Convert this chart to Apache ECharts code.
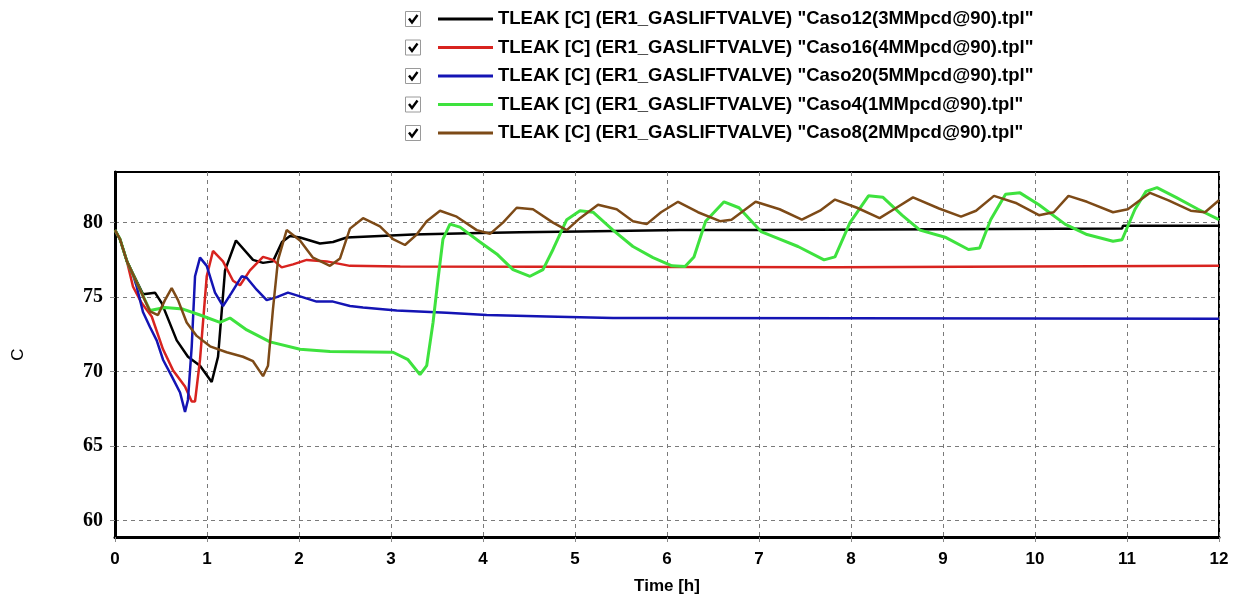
<!DOCTYPE html>
<html>
<head>
<meta charset="utf-8">
<script src="https://cdn.jsdelivr.net/npm/echarts@6/dist/echarts.min.js"></script>
<style>
html,body{margin:0;padding:0;background:#fff;}
#chart{width:1233px;height:602px;}
</style>
</head>
<body>
<div id="chart"></div>
<script>
// ---- Data (time in hours, temperature in C) ----
const seriesNames = [
  'TLEAK [C] (ER1_GASLIFTVALVE) "Caso12(3MMpcd@90).tpl"',
  'TLEAK [C] (ER1_GASLIFTVALVE) "Caso16(4MMpcd@90).tpl"',
  'TLEAK [C] (ER1_GASLIFTVALVE) "Caso20(5MMpcd@90).tpl"',
  'TLEAK [C] (ER1_GASLIFTVALVE) "Caso4(1MMpcd@90).tpl"',
  'TLEAK [C] (ER1_GASLIFTVALVE) "Caso8(2MMpcd@90).tpl"'
];
const xTicks = [0,1,2,3,4,5,6,7,8,9,10,11,12];
const yTicks = [60,65,70,75,80];

const caso12T = [0,0.054,0.13,0.304,0.435,0.508,0.671,0.793,0.924,1.051,1.12,1.196,1.315,1.5,1.609,1.717,1.815,1.902,2.011,2.228,2.37,2.518,2.88,3.239,3.967,4.402,5.054,6.141,6.957,6.967,10.946,10.957,12];
const caso12V = [79.5,78.9,77.4,75.2,75.3,74.6,72.1,71.0,70.4,69.3,71.0,76.8,78.8,77.5,77.3,77.4,78.7,79.1,79.0,78.6,78.7,79.0,79.1,79.2,79.3,79.35,79.4,79.5,79.5,79.6,79.6,79.8,79.8];

const caso16T = [0,0.054,0.13,0.196,0.29,0.399,0.522,0.63,0.761,0.834,0.87,0.924,0.997,1.065,1.174,1.283,1.359,1.467,1.609,1.717,1.812,1.935,2.084,2.301,2.554,3.1,7.848,7.859,12];
const caso16V = [79.5,78.9,77.4,75.7,74.6,73.7,71.5,70.1,69.0,68.0,68.0,70.8,76.4,78.1,77.4,76.1,75.8,76.8,77.7,77.5,77.0,77.2,77.5,77.4,77.1,77.05,77.0,77.1,77.1];

const caso20T = [0,0.054,0.13,0.196,0.236,0.304,0.38,0.453,0.522,0.616,0.707,0.761,0.793,0.834,0.87,0.924,0.997,1.087,1.174,1.268,1.377,1.432,1.54,1.649,1.758,1.88,2.011,2.192,2.37,2.554,2.696,3.062,3.605,4.04,4.692,5.413,5.957,5.967,12];
const caso20V = [79.5,78.9,77.4,76.5,75.7,74.0,73.0,72.1,70.8,69.7,68.6,67.3,68.1,71.7,76.4,77.65,77.1,75.3,74.4,75.3,76.4,76.3,75.5,74.8,75.0,75.3,75.05,74.7,74.7,74.4,74.3,74.1,73.95,73.8,73.7,73.6,73.6,73.55,73.55];

const caso4T = [0,0.054,0.13,0.272,0.38,0.543,0.739,0.924,1.141,1.25,1.432,1.685,2.011,2.337,3.022,3.185,3.315,3.388,3.457,3.511,3.565,3.641,3.75,3.967,4.149,4.326,4.511,4.652,4.761,4.91,5.054,5.196,5.413,5.63,5.848,6.054,6.196,6.293,6.42,6.62,6.783,7.022,7.185,7.424,7.707,7.826,7.989,8.19,8.348,8.554,8.75,9.033,9.277,9.398,9.518,9.68,9.837,10.043,10.326,10.565,10.848,10.946,11.087,11.207,11.326,11.533,11.772,12];
const caso4V = [79.5,78.9,77.4,75.5,74.1,74.3,74.2,73.8,73.3,73.6,72.8,72.0,71.5,71.35,71.3,70.8,69.8,70.4,73.3,76.2,78.9,79.9,79.7,78.7,77.9,76.85,76.4,76.85,78.2,80.2,80.8,80.7,79.5,78.4,77.65,77.1,77.05,77.7,80.1,81.4,81.0,79.4,79.0,78.4,77.5,77.7,80.0,81.8,81.7,80.5,79.5,79.0,78.2,78.3,80.2,81.9,82.0,81.2,79.9,79.2,78.75,78.85,80.9,82.1,82.35,81.7,80.9,80.2];

const caso8T = [0,0.054,0.13,0.272,0.38,0.467,0.543,0.616,0.685,0.779,0.888,1.033,1.214,1.391,1.5,1.609,1.663,1.717,1.772,1.866,2.011,2.152,2.337,2.446,2.554,2.696,2.88,3.022,3.152,3.279,3.388,3.533,3.714,3.932,4.076,4.217,4.366,4.543,4.761,4.91,5.054,5.25,5.453,5.63,5.779,5.935,6.12,6.337,6.576,6.701,6.963,7.224,7.466,7.663,7.826,8.065,8.311,8.467,8.674,8.957,9.196,9.359,9.554,9.801,10.043,10.203,10.364,10.565,10.848,11.009,11.25,11.451,11.692,11.848,12];
const caso8V = [79.5,78.9,77.4,75.5,74.05,73.8,74.8,75.6,74.8,73.3,72.4,71.7,71.3,71.0,70.7,69.7,70.4,74.2,77.5,79.5,78.8,77.65,77.1,77.6,79.6,80.3,79.75,78.9,78.5,79.2,80.1,80.8,80.4,79.5,79.25,80.0,81.0,80.9,80.0,79.5,80.3,81.2,80.9,80.1,79.9,80.7,81.4,80.7,80.1,80.2,81.4,80.9,80.2,80.8,81.55,81.0,80.3,80.9,81.7,80.95,80.4,80.8,81.8,81.3,80.5,80.7,81.8,81.4,80.7,80.9,82.0,81.5,80.8,80.7,81.5];

const seriesT = [caso12T, caso16T, caso20T, caso4T, caso8T];
const seriesV = [caso12V, caso16V, caso20V, caso4V, caso8V];
const seriesColors = ['#000000', '#d8231f', '#1414b4', '#3ee23e', '#7d4a17'];
const seriesWidths = [2.5, 2.5, 2.5, 3, 2.5];

function zip(t, v) { return t.map((x, i) => [x, v[i]]); }

const chart = echarts.init(document.getElementById('chart'), null, {renderer: 'canvas'});

const series = seriesNames.map((name, i) => ({
  name: name,
  type: 'line',
  data: zip(seriesT[i], seriesV[i]),
  showSymbol: false,
  symbol: 'none',
  color: seriesColors[i],
  lineStyle: {color: seriesColors[i], width: seriesWidths[i]},
  animation: false,
  z: 3
}));

// checkboxes next to legend items (decoration)
const graphics = [];
for (let i = 0; i < seriesNames.length; i++) {
  const top = 11 + 28.5 * i;
  graphics.push({
    type: 'group', left: 405, top: top,
    children: [
      {type: 'rect', shape: {x: 0, y: 0, width: 15, height: 15}, style: {fill: '#fff', stroke: '#9a9a9a', lineWidth: 1}},
      {type: 'polyline', shape: {points: [[3.5, 7], [6.5, 11], [12, 3.5]]}, style: {stroke: '#000', lineWidth: 2.4, fill: null}}
    ]
  });
}

const option = {
  backgroundColor: '#ffffff',
  animation: false,
  grid: {
    left: 115, right: 14, top: 172, bottom: 65,
    show: true, borderColor: '#000', borderWidth: 2, backgroundColor: '#fff'
  },
  legend: {
    data: seriesNames,
    orient: 'vertical',
    left: 433, top: 4,
    icon: 'rect',
    itemWidth: 55, itemHeight: 3,
    itemGap: 8.5,
    selectedMode: false,
    textStyle: {
      color: '#000', fontSize: 18.5, fontWeight: 'bold',
      fontFamily: '"Liberation Sans", Arial, sans-serif',
      lineHeight: 20
    }
  },
  graphic: graphics,
  xAxis: {
    type: 'value', min: 0, max: 12, interval: 1,
    name: 'Time [h]', nameLocation: 'middle', nameGap: 41,
    nameTextStyle: {color: '#000', fontSize: 17, fontWeight: 'bold', fontFamily: '"Liberation Sans", Arial, sans-serif'},
    axisLine: {show: true, onZero: false, lineStyle: {color: '#000', width: 3}},
    axisTick: {show: true, length: 5, lineStyle: {color: '#888', width: 1}},
    axisLabel: {
      color: '#000', fontSize: 17, fontWeight: 'bold', margin: 14,
      fontFamily: '"Liberation Sans", Arial, sans-serif',
      customValues: xTicks
    },
    splitLine: {show: true, lineStyle: {color: '#7a7a7a', width: 1, type: [4, 4]}}
  },
  yAxis: {
    type: 'value', min: 58.9, max: 83.4,
    name: 'C', nameLocation: 'middle', nameGap: 88, nameRotate: 90,
    nameTextStyle: {color: '#000', fontSize: 17, fontFamily: '"Liberation Sans", Arial, sans-serif'},
    axisLine: {show: true, onZero: false, lineStyle: {color: '#000', width: 3}},
    axisTick: {show: true, length: 5, lineStyle: {color: '#888', width: 1}, customValues: yTicks},
    axisLabel: {
      color: '#000', fontSize: 20, fontWeight: 'bold', margin: 12,
      fontFamily: '"Liberation Serif", "Times New Roman", serif',
      customValues: yTicks
    },
    splitLine: {show: true, lineStyle: {color: '#7a7a7a', width: 1, type: [4, 4]}}
  },
  series: series
};

chart.setOption(option);
</script>
</body>
</html>
